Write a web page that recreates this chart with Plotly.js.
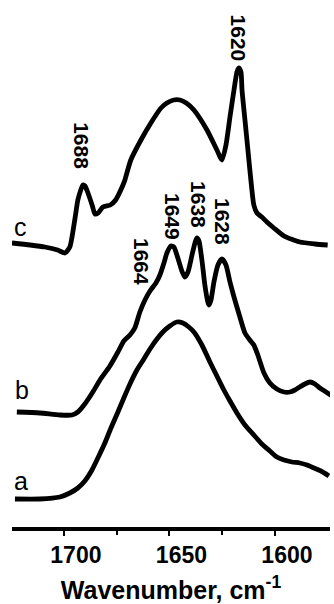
<!DOCTYPE html>
<html>
<head>
<meta charset="utf-8">
<script src="https://cdn.plot.ly/plotly-3.0.1.min.js"></script>
<style>
html,body{margin:0;padding:0;background:#fff;}
#chart{width:334px;height:604px;}
</style>
</head>
<body>
<div id="chart"></div>
<script>
// Wavenumber (cm-1) and stacked absorbance (arbitrary units, offset) for each spectrum
const waveC = [1724.6,1716,1709,1703,1699.5,1697.2,1696,1694.5,1693.4,1692,1691,1690,1688.6,1686.5,1685.3,1683.8,1681.5,1678,1675.5,1672,1671.1,1668.3,1663.5,1658.8,1654,1651.2,1648,1645,1642,1638.4,1632.2,1627.5,1625.1,1623.2,1621.3,1619.4,1618,1617.1,1616.1,1615.6,1614.2,1612.8,1611.4,1610,1608.5,1606.2,1603.8,1600.5,1595.7,1588.2,1581,1575];
const absC = [2.84,2.82,2.80,2.77,2.74,2.80,2.92,3.12,3.27,3.37,3.42,3.41,3.34,3.21,3.13,3.14,3.20,3.22,3.27,3.42,3.47,3.67,3.87,4.04,4.19,4.24,4.27,4.27,4.24,4.17,3.97,3.77,3.67,3.82,4.10,4.37,4.55,4.59,4.55,4.37,4.07,3.77,3.47,3.22,3.14,3.10,3.05,2.99,2.91,2.85,2.83,2.82];

const waveB = [1722.3,1711.4,1701.9,1696.2,1693.4,1690.1,1686.3,1682.9,1678.2,1674.4,1671.6,1668.7,1666.4,1664.0,1661.6,1659.2,1656.4,1654.5,1652.6,1651.2,1649.3,1647.9,1646.0,1644.1,1642.7,1641.2,1639.3,1637.9,1637.0,1636.0,1634.6,1633.2,1631.8,1631.3,1630.3,1628.9,1627.0,1625.1,1623.2,1621.3,1619.4,1616.6,1614.2,1611.9,1610.0,1608.1,1605.2,1602.4,1599.1,1595.7,1592.9,1590.5,1588.2,1585.8,1583.4,1581.0,1578.7,1575.8,1573.0];
const absB = [1.15,1.14,1.12,1.12,1.15,1.23,1.35,1.47,1.61,1.75,1.86,1.92,1.99,2.15,2.27,2.36,2.44,2.52,2.64,2.74,2.81,2.80,2.69,2.56,2.50,2.55,2.72,2.84,2.89,2.86,2.67,2.42,2.25,2.22,2.27,2.45,2.62,2.68,2.62,2.45,2.30,2.10,1.94,1.87,1.82,1.72,1.54,1.44,1.38,1.35,1.35,1.37,1.40,1.43,1.45,1.43,1.39,1.35,1.31];

const waveA = [1723.2,1711.4,1701.9,1697.2,1693.4,1690.1,1686.7,1683.9,1680.6,1677.7,1674.4,1671.6,1668.7,1665.4,1662.1,1659.2,1655.9,1653.1,1649.8,1646.5,1643.6,1640.8,1638.4,1634.6,1630.8,1627.5,1624.2,1621.3,1618.0,1614.2,1610.0,1606.2,1602.4,1599.1,1595.7,1591.9,1588.2,1584.8,1581.5,1578.2,1574.4];
const absA = [0.28,0.28,0.30,0.34,0.39,0.46,0.57,0.69,0.84,0.99,1.15,1.29,1.43,1.57,1.68,1.78,1.88,1.95,2.01,2.05,2.04,2.00,1.95,1.82,1.65,1.51,1.37,1.26,1.14,1.02,0.92,0.83,0.76,0.70,0.67,0.65,0.64,0.62,0.59,0.56,0.51];

const seriesNames = ["a","b","c"];
const seriesLabelPos = [[1720.4,0.46],[1719.9,1.37],[1720.4,3.00]];

const peakLabels = ["1688","1664","1649","1638","1628","1620"];
const peakLabelPos = [[1691.5,3.81],[1663.0,2.65],[1648.3,3.11],[1636.0,3.22],[1624.6,3.06],[1616.8,4.89]];

const tickValues = [1700,1650,1600];
const tickLabels = ["1700","1650","1600"];
const minorTickValues = [1675,1625];

const lineStyle = {color:'#000', width:4.8, shape:'spline', smoothing:0.6};
const traces = [
  {x:waveA, y:absA, name:'a'},
  {x:waveB, y:absB, name:'b'},
  {x:waveC, y:absC, name:'c'}
].map(t => Object.assign(t, {type:'scatter', mode:'lines', line:lineStyle, hoverinfo:'skip'}));

const annotations = [];
seriesNames.forEach((n,i) => annotations.push({
  x:seriesLabelPos[i][0], y:seriesLabelPos[i][1], xref:'x', yref:'y', text:n, showarrow:false,
  font:{family:'Liberation Sans, Arial, sans-serif', size:25, color:'#000'}
}));
peakLabels.forEach((p,i) => annotations.push({
  x:peakLabelPos[i][0], y:peakLabelPos[i][1], xref:'x', yref:'y', text:p, showarrow:false, textangle:90,
  font:{family:'Liberation Sans, Arial, sans-serif', size:21, color:'#000', weight:'bold'}
}));

const layout = {
  width:334, height:604,
  margin:{l:12, r:4, t:0, b:77},
  paper_bgcolor:'#fff', plot_bgcolor:'#fff',
  showlegend:false,
  xaxis:{
    range:[1724.6,1573.9], autorange:false,
    tickmode:'array', tickvals:tickValues, ticktext:tickLabels,
    ticks:'outside', ticklen:5, tickwidth:2, tickcolor:'#000',
    minor:{tickmode:'array', tickvals:minorTickValues, ticks:'outside', ticklen:4, tickwidth:2, tickcolor:'#000'},
    showline:true, linecolor:'#000', linewidth:3.5,
    showgrid:false, zeroline:false,
    ticklabelshift:-12,
    tickfont:{family:'Liberation Sans, Arial, sans-serif', size:23, color:'#000', weight:'bold'},
    title:{text:'Wavenumber, cm<sup>-1</sup>', standoff:22,
      font:{family:'Liberation Sans, Arial, sans-serif', size:25, color:'#000', weight:'bold'}}
  },
  yaxis:{range:[0,5.27], autorange:false, visible:false, showgrid:false, zeroline:false},
  annotations:annotations
};

Plotly.newPlot('chart', traces, layout, {staticPlot:true, displayModeBar:false});
</script>
</body>
</html>
